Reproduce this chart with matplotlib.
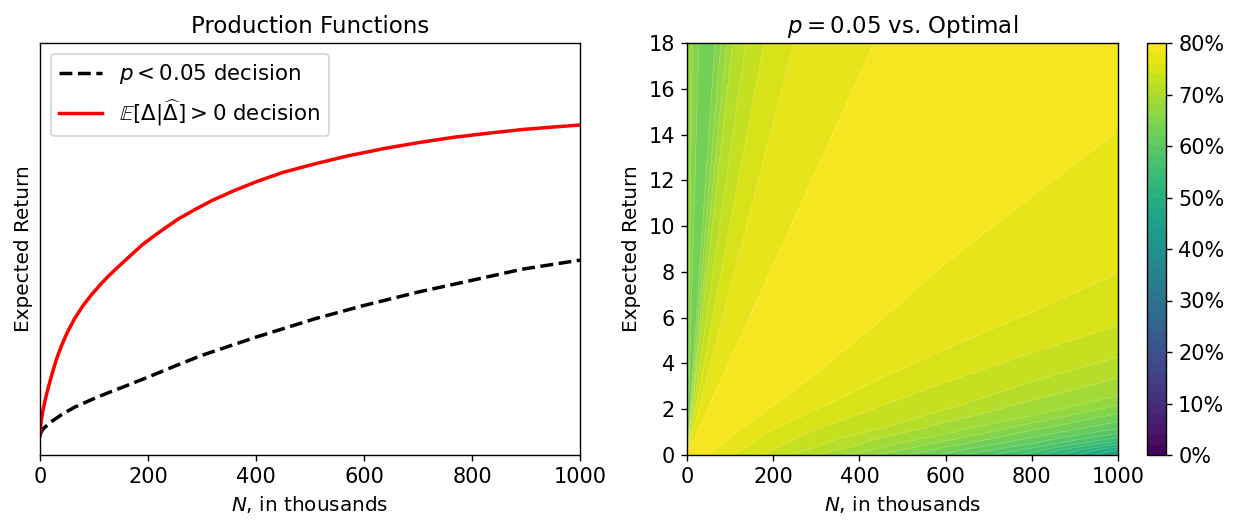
import matplotlib
matplotlib.use("Agg")
import matplotlib.pyplot as plt
import numpy as np
from matplotlib.ticker import PercentFormatter

# ---- left panel: production functions (arbitrary return units)
n_pval   = [0, 2, 4, 8, 19, 40, 64, 100, 128, 150, 200, 250, 300, 400, 510, 600, 702, 800, 893, 1000]
ret_pval = [0.047, 0.055, 0.060, 0.066, 0.079, 0.098, 0.116, 0.137, 0.152, 0.163, 0.189, 0.216,
            0.242, 0.286, 0.331, 0.363, 0.396, 0.424, 0.451, 0.473]

n_bayes   = [0, 2, 5, 9, 13, 20, 25, 32, 40, 50, 64, 80, 96, 112, 128, 150, 175, 191, 220, 255,
             290, 319, 360, 402, 450, 510, 570, 638, 700, 765, 830, 893, 950, 1000]
ret_bayes = [0.047, 0.080, 0.105, 0.130, 0.152, 0.186, 0.209, 0.238, 0.266, 0.296, 0.331, 0.363,
             0.390, 0.414, 0.436, 0.463, 0.493, 0.512, 0.540, 0.572, 0.598, 0.618, 0.642, 0.664,
             0.686, 0.707, 0.726, 0.744, 0.758, 0.771, 0.781, 0.790, 0.796, 0.801]

# ---- right panel: share of optimal return reached by the p = 0.05 rule,
# sampled along rays from the origin to the frame (top edge, then right edge)
ray_end_n   = [0, 12, 19, 27, 33, 55, 79, 106, 137, 180, 250, 340, 440, 600, 800, 1000] + [1000] * 22
ray_end_ret = [18] * 16 + [16, 14.3, 11, 8.0, 6.8, 5.68, 4.3, 3.38, 2.6, 2.18, 1.82, 1.46, 1.16,
                           0.95, 0.77, 0.61, 0.48, 0.36, 0.25, 0.15, 0.05, 0]
ray_frac    = [0, 0.03, 0.07, 0.12, 0.2, 0.3, 0.45, 0.6, 0.8, 1.0]

ratio_on_ray = [
    [0.670] * 10,
    [0.6605] * 10,
    [0.650] * 10,
    [0.6405] * 10,
    [0.635] * 10,
    [0.625] * 10,
    [0.6605] * 10,
    [0.7005] * 10,
    [0.7205] * 10,
    [0.7405] * 10,
    [0.7605] * 10,
    [0.772] * 10,
    [0.7805] * 10,
    [0.790] * 10,
    [0.795] * 10,
    [0.795] * 10,
    [0.785, 0.787, 0.790, 0.790, 0.790, 0.790, 0.788, 0.786, 0.785, 0.785],
    [0.785, 0.787, 0.790, 0.790, 0.789, 0.787, 0.784, 0.781, 0.7805, 0.7805],
    [0.785, 0.786, 0.787, 0.784, 0.7805, 0.7774, 0.7727, 0.7703, 0.7703, 0.7695],
    [0.785, 0.786, 0.784, 0.778, 0.770, 0.7657, 0.7627, 0.7618, 0.7615, 0.7605],
    [0.785, 0.786, 0.783, 0.775, 0.765, 0.761, 0.7569, 0.7544, 0.7527, 0.750],
    [0.785, 0.786, 0.782, 0.772, 0.7607, 0.7538, 0.7477, 0.7436, 0.7411, 0.7405],
    [0.785, 0.785, 0.780, 0.768, 0.7545, 0.7437, 0.736, 0.7302, 0.725, 0.7205],
    [0.785, 0.785, 0.7795, 0.766, 0.7503, 0.7369, 0.7277, 0.7211, 0.7093, 0.7005],
    [0.785, 0.784, 0.779, 0.764, 0.7467, 0.731, 0.7206, 0.7046, 0.6915, 0.6805],
    [0.785, 0.784, 0.7787, 0.763, 0.7447, 0.7279, 0.7118, 0.6951, 0.6813, 0.6605],
    [0.785, 0.784, 0.7785, 0.762, 0.743, 0.7252, 0.7035, 0.6871, 0.6643, 0.6405],
    [0.785, 0.784, 0.778, 0.761, 0.7415, 0.7225, 0.6956, 0.6783, 0.6457, 0.6205],
    [0.785, 0.783, 0.7778, 0.760, 0.740, 0.7202, 0.6895, 0.6657, 0.6303, 0.6005],
    [0.785, 0.783, 0.7777, 0.7597, 0.7387, 0.7168, 0.6853, 0.6568, 0.6197, 0.5805],
    [0.785, 0.783, 0.7776, 0.7594, 0.7374, 0.7136, 0.6816, 0.649, 0.6089, 0.5605],
    [0.785, 0.783, 0.7775, 0.759, 0.7363, 0.7108, 0.6772, 0.6421, 0.5993, 0.5405],
    [0.785, 0.783, 0.7773, 0.759, 0.7354, 0.7085, 0.6729, 0.6363, 0.5888, 0.5205],
    [0.785, 0.783, 0.7772, 0.7585, 0.7345, 0.7064, 0.669, 0.6309, 0.5793, 0.5005],
    [0.785, 0.783, 0.7771, 0.7583, 0.7338, 0.7044, 0.6654, 0.626, 0.5703, 0.4805],
    [0.785, 0.782, 0.777, 0.758, 0.733, 0.7026, 0.6621, 0.6215, 0.562, 0.470],
    [0.785, 0.782, 0.777, 0.758, 0.7323, 0.7009, 0.6585, 0.617, 0.555, 0.460],
    [0.785, 0.782, 0.777, 0.758, 0.732, 0.700, 0.657, 0.615, 0.550, 0.455],
]
levels = np.linspace(0, 0.8, 41)
cbar_ticks = [0, 0.1, 0.2, 0.3, 0.4, 0.5, 0.6, 0.7, 0.8]

plt.rcParams['font.size'] = 12

fig = plt.figure(figsize=(1233 / 125, 521 / 125), dpi=125)
W, H = 1233, 521

ax1 = fig.add_axes([40 / W, (H - 455) / H, 540 / W, 412 / H])
ax1.plot(n_pval, ret_pval, 'k--', linewidth=2, label=r'$p < 0.05$ decision')
ax1.plot(n_bayes, ret_bayes, color='red', linewidth=2,
         label=r'$\mathbb{E}[\Delta|\widehat{\Delta}] > 0$ decision')
ax1.set_xlim(0, 1000)
ax1.set_ylim(0, 1)
ax1.set_xticks([0, 200, 400, 600, 800, 1000])
ax1.set_yticks([])
ax1.set_xlabel(r'$N$, in thousands', fontsize=11.5)
ax1.set_ylabel('Expected Return', fontsize=11.5)
ax1.set_title('Production Functions', fontsize=13.2)
ax1.legend(loc='upper left', fontsize=12.3)

# grid of sample points: each column is one ray from the origin
X = np.outer(ray_frac, ray_end_n)
Y = np.outer(ray_frac, ray_end_ret)
Z = np.array(ratio_on_ray).T

ax2 = fig.add_axes([687 / W, (H - 455) / H, 431 / W, 412 / H])
cs = ax2.contourf(X, Y, Z, levels=levels, cmap='viridis')
ax2.contour(X, Y, Z, levels=levels, colors='white', linewidths=0.3, alpha=0.3)
ax2.set_xlim(0, 1000)
ax2.set_ylim(0, 18)
ax2.set_xticks([0, 200, 400, 600, 800, 1000])
ax2.set_yticks(range(0, 19, 2))
ax2.set_xlabel(r'$N$, in thousands', fontsize=11.5)
ax2.set_ylabel('Expected Return', fontsize=11.5)
ax2.set_title(r'$p = 0.05$ vs. Optimal', fontsize=13.2)

cax = fig.add_axes([1147 / W, (H - 455) / H, 19 / W, 412 / H])
cb = fig.colorbar(cs, cax=cax, ticks=cbar_ticks)
cb.ax.yaxis.set_major_formatter(PercentFormatter(1.0, decimals=0))

fig.savefig('out.png', dpi=125)
